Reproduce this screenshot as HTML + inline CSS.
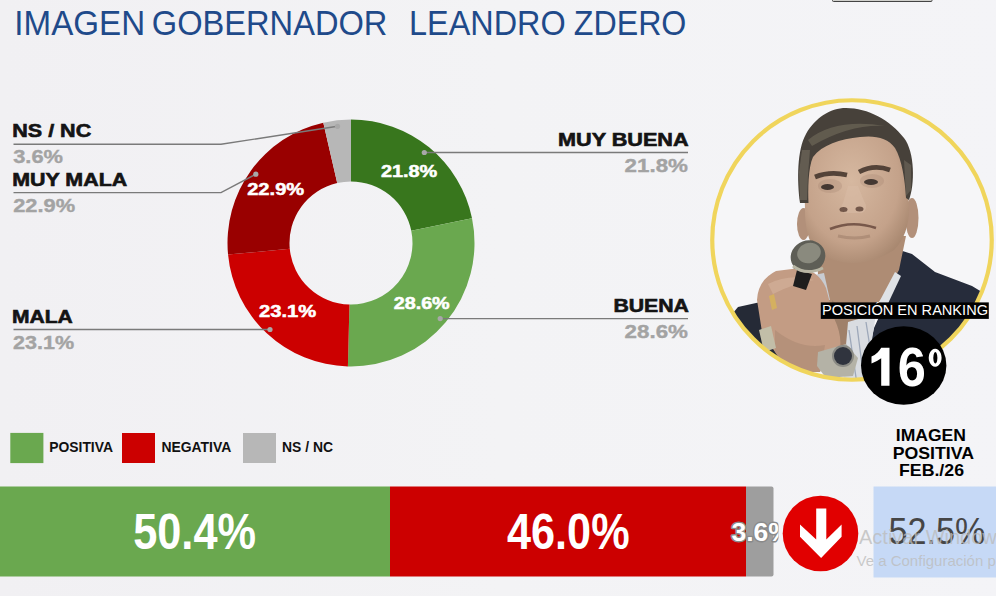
<!DOCTYPE html>
<html><head><meta charset="utf-8">
<style>
html,body{margin:0;padding:0;width:1007px;height:596px;overflow:hidden;background:#f3f3f5;}
svg{position:absolute;left:0;top:0;display:block}
text{font-family:"Liberation Sans",sans-serif;}
</style></head>
<body>
<svg width="1007" height="596" viewBox="0 0 1007 596">
<defs>
<clipPath id="photoclip"><circle cx="852" cy="240" r="139"/></clipPath>
<clipPath id="clip36"><rect x="700" y="480" width="78.5" height="100"/></clipPath>
<radialGradient id="skin" cx="0.45" cy="0.4" r="0.7">
<stop offset="0" stop-color="#d6b8a0"/><stop offset="0.65" stop-color="#c4a28a"/><stop offset="1" stop-color="#a08068"/>
</radialGradient>
</defs>
<!-- background -->
<linearGradient id="bgg" x1="0" y1="0" x2="1" y2="0"><stop offset="0" stop-color="#f1f0f3"/><stop offset="0.5" stop-color="#f3f3f5"/><stop offset="1" stop-color="#f4f4f7"/></linearGradient>
<rect x="0" y="0" width="1007" height="596" fill="url(#bgg)"/>
<rect x="832.5" y="-3" width="99.5" height="4.5" rx="1" fill="#d0d0cc" stroke="#444" stroke-width="1"/>

<!-- title -->
<g font-size="34.5" fill="#1f4a8a">
<text x="14.3" y="34.8" textLength="130.8" lengthAdjust="spacingAndGlyphs">IMAGEN</text>
<text x="151.8" y="34.8" textLength="235.6" lengthAdjust="spacingAndGlyphs">GOBERNADOR</text>
<text x="409.1" y="34.8" textLength="156.6" lengthAdjust="spacingAndGlyphs">LEANDRO</text>
<text x="573.8" y="34.8" textLength="112.6" lengthAdjust="spacingAndGlyphs">ZDERO</text>
</g>

<!-- donut -->
<path fill="#38761d" d="M351.00 119.50A123.5 123.5 0 0 1 472.01 218.34L411.26 230.72A61.5 61.5 0 0 0 351.00 181.50Z"/>
<path fill="#6aa84f" d="M472.01 218.34A123.5 123.5 0 0 1 347.90 366.46L349.45 304.48A61.5 61.5 0 0 0 411.26 230.72Z"/>
<path fill="#cc0000" d="M347.90 366.46A123.5 123.5 0 0 1 228.05 254.62L289.77 248.79A61.5 61.5 0 0 0 349.45 304.48Z"/>
<path fill="#990000" d="M228.05 254.62A123.5 123.5 0 0 1 323.30 122.65L337.21 183.07A61.5 61.5 0 0 0 289.77 248.79Z"/>
<path fill="#b7b7b7" d="M323.30 122.65A123.5 123.5 0 0 1 351.00 119.50L351.00 181.50A61.5 61.5 0 0 0 337.21 183.07Z"/>

<!-- in-slice labels -->
<g font-weight="700" font-size="16.3" fill="#fff" stroke="#fff" stroke-width="0.5">
<text x="380.9" y="177" textLength="56.4" lengthAdjust="spacingAndGlyphs">21.8%</text>
<text x="393.7" y="308.5" textLength="56" lengthAdjust="spacingAndGlyphs">28.6%</text>
<text x="259" y="317" textLength="57.2" lengthAdjust="spacingAndGlyphs">23.1%</text>
<text x="247.2" y="194.7" textLength="57" lengthAdjust="spacingAndGlyphs">22.9%</text>
</g>

<!-- leader lines -->
<g stroke="#7a7a7a" stroke-width="1.4" fill="none">
<polyline points="13.5,144.3 221,144.3 337.5,126.3"/>
<polyline points="13.5,192.6 221,192.6 255.8,174.2"/>
<polyline points="13.5,329.5 270,329.5"/>
<polyline points="424.3,152.5 688,152.5"/>
<polyline points="440.2,318.6 688,318.6"/>
</g>
<g fill="#a8a8a8">
<circle cx="337.5" cy="126.3" r="2.6"/>
<circle cx="255.8" cy="174.2" r="2.6"/>
<circle cx="270" cy="329.5" r="2.6"/>
<circle cx="424.3" cy="152.5" r="2.6"/>
<circle cx="440.2" cy="318.6" r="2.6"/>
</g>

<!-- outside labels -->
<g font-weight="700" font-size="17.5" fill="#141414" stroke="#141414" stroke-width="0.6">
<text x="12.3" y="136.8" textLength="78.9" lengthAdjust="spacingAndGlyphs">NS / NC</text>
<text x="12.2" y="185.7" textLength="115" lengthAdjust="spacingAndGlyphs">MUY MALA</text>
<text x="12.0" y="322.7" textLength="60.8" lengthAdjust="spacingAndGlyphs">MALA</text>
<text x="558" y="145.6" textLength="130.6" lengthAdjust="spacingAndGlyphs">MUY BUENA</text>
<text x="613.4" y="312" textLength="75.6" lengthAdjust="spacingAndGlyphs">BUENA</text>
</g>
<g font-weight="700" font-size="17.5" fill="#a3a3a3" stroke="#a3a3a3" stroke-width="0.35">
<text x="13.2" y="163.4" textLength="49.8" lengthAdjust="spacingAndGlyphs">3.6%</text>
<text x="13.2" y="212.3" textLength="61.9" lengthAdjust="spacingAndGlyphs">22.9%</text>
<text x="13.0" y="348.8" textLength="61.1" lengthAdjust="spacingAndGlyphs">23.1%</text>
<text x="624.6" y="172" textLength="63.4" lengthAdjust="spacingAndGlyphs">21.8%</text>
<text x="624.6" y="338.4" textLength="63.4" lengthAdjust="spacingAndGlyphs">28.6%</text>
</g>

<!-- legend -->
<rect x="10.3" y="432.9" width="33.1" height="30.2" fill="#6aa84f"/>
<rect x="122" y="433" width="33" height="30" fill="#cc0000"/>
<rect x="243" y="433" width="33" height="30" fill="#b7b7b7"/>
<g font-weight="700" font-size="14" fill="#111">
<text x="49.2" y="452" textLength="63.8" lengthAdjust="spacingAndGlyphs">POSITIVA</text>
<text x="161.4" y="452" textLength="69.9" lengthAdjust="spacingAndGlyphs">NEGATIVA</text>
<text x="282" y="452" textLength="51" lengthAdjust="spacingAndGlyphs">NS / NC</text>
</g>

<!-- bar -->
<rect x="0" y="486.5" width="390" height="90" fill="#6aa84f"/>
<rect x="390" y="486.5" width="356" height="90" fill="#cc0000"/>
<path d="M746 486.5H771.5a2 2 0 0 1 2 2V574.5a2 2 0 0 1 -2 2H746Z" fill="#9e9e9e"/>
<g font-weight="700" font-size="50" fill="#fff">
<text x="133.2" y="549" textLength="122.8" lengthAdjust="spacingAndGlyphs">50.4%</text>
<text x="507" y="549" textLength="122.6" lengthAdjust="spacingAndGlyphs">46.0%</text>
</g>
<g clip-path="url(#clip36)">
<text x="731.5" y="541" font-weight="700" font-size="26.5" fill="#fff" stroke="#8a8a8a" stroke-width="3" stroke-linejoin="round" style="paint-order:stroke">3.6%</text>
</g>

<!-- arrow -->
<circle cx="820.5" cy="533.5" r="37.8" fill="#e10000"/>
<polygon fill="#fff" points="816.2,508.6 826.3,508.6 826.3,539.5 841.6,524.4 841.6,536.8 821.1,558 800,536.8 800,524.4 816.2,539.5"/>

<!-- blue box -->
<rect x="873.5" y="486.5" width="122.5" height="91" fill="#c6d9f6"/>
<text x="888.5" y="543.8" font-size="36" fill="#464646" textLength="97" lengthAdjust="spacingAndGlyphs">52.5%</text>
<g font-weight="700" font-size="16.5" fill="#000">
<text x="895.8" y="441.2" textLength="70.2" lengthAdjust="spacingAndGlyphs">IMAGEN</text>
<text x="892.7" y="459" textLength="81.3" lengthAdjust="spacingAndGlyphs">POSITIVA</text>
<text x="899" y="476" textLength="65" lengthAdjust="spacingAndGlyphs">FEB./26</text>
</g>

<!-- photo -->
<circle cx="852" cy="240" r="139" fill="#f6f6f8"/>
<g clip-path="url(#photoclip)">
  <!-- left suit shoulder -->
  <path fill="#252a36" d="M712 338 L738 307 L770 300 L796 340 L800 400 L712 400 Z"/>
  <!-- right suit -->
  <path fill="#262c3b" d="M893 248 L912 254 L935 272 L972 286 L995 300 L1000 400 L858 400 L874 328 L884 306 Z"/>
  <!-- neck -->
  <path fill="#ae8c74" d="M816 236 L906 236 L899 270 L884 296 L866 316 L852 328 L850 350 L832 350 L827 305 L818 275 Z"/>
  <path fill="#8f7060" opacity="0.45" d="M832 300 Q850 318 866 316 L852 328 L850 350 L832 350 Z"/>
  <!-- shirt collar + stripes -->
  <path fill="#dfe2e6" d="M895 272 L901 276 L884 312 L876 308 Z"/>
  <path fill="#c8ccd2" d="M814 275 L824 273 L830 300 L822 300 Z"/>
  <path fill="#d9dde2" d="M848 322 L876 314 L872 340 L868 400 L842 400 L846 345 Z"/>
  <g stroke="#8e9bb0" stroke-width="1.3" opacity="0.8">
    <line x1="849" y1="330" x2="858" y2="391"/><line x1="857" y1="326" x2="865" y2="388"/><line x1="866" y1="322" x2="872" y2="360"/>
  </g>
  <!-- ears -->
  <ellipse cx="803.5" cy="224" rx="6.5" ry="16" fill="#b2907a"/>
  <ellipse cx="912" cy="218" rx="6.5" ry="20" fill="#b2907a"/>
  <!-- face -->
  <path fill="url(#skin)" d="M804 170 Q808 128 850 126 Q898 124 906 168 L909 205 Q910 234 894 250 Q872 264 852 263 Q828 262 815 250 Q805 236 805 210 Z"/>
  <!-- brows / eyes / nose / mouth -->
  <ellipse cx="830" cy="186" rx="12" ry="7" fill="#8a6a56" opacity="0.18"/>
  <ellipse cx="872" cy="181" rx="12" ry="7" fill="#8a6a56" opacity="0.18"/>
  <path d="M815 177 Q830 171 847 175" stroke="#3e3028" stroke-width="4.8" fill="none" opacity="0.85"/>
  <path d="M859 172 Q874 164 890 170" stroke="#3e3028" stroke-width="4.8" fill="none" opacity="0.85"/>
  <ellipse cx="827.5" cy="187" rx="6.5" ry="3" fill="#2e2622" opacity="0.85"/>
  <ellipse cx="871" cy="182" rx="7" ry="3" fill="#2e2622" opacity="0.85"/>
  <path d="M848 186 L843 203 Q838 210 845 213 L862 213 Q869 209 864 201 L858 186 Z" fill="#d8bca6" opacity="0.55"/>
  <ellipse cx="843.5" cy="209.5" rx="4" ry="2.5" fill="#5a4034" opacity="0.8"/>
  <ellipse cx="859.5" cy="209" rx="4" ry="2.5" fill="#5a4034" opacity="0.8"/>
  <path d="M830 229 Q852 220 876 228" stroke="#6a4a3e" stroke-width="2.6" fill="none" opacity="0.85"/>
  <path d="M838 236 Q855 240 870 236" stroke="#9a7a66" stroke-width="3" fill="none" opacity="0.5"/>
  <!-- hair -->
  <path fill="#47413a" d="M800 203 C797 180 797 150 806 134 C815 118 830 108 846 108 C868 108 890 120 904 138 C915 152 915 185 909 200 L906 198 C905 180 902 160 895 148 C888 138 875 135 860 137 C840 139 822 145 813 157 C808 168 808 190 808.5 203 Z"/>
  <path fill="#7a7264" opacity="0.55" d="M800 200 L799 172 L802 150 L810 150 L808 175 L807 200 Z"/>
  <path fill="#7a7264" opacity="0.5" d="M904 160 L911 165 L911 190 L906 196 Z"/>
  <path fill="#8a826f" opacity="0.4" d="M808 140 Q835 118 885 126 Q850 124 812 146 Z"/>
  <!-- mic handle -->
  <path fill="#232323" d="M795 266 L809 274 L773 346 L760 339 Z"/>
  <!-- hand -->
  <path fill="#c39c84" d="M757 300 Q758 280 776 271 L800 268 Q818 270 826 288 L834 318 Q842 335 840 348 L830 352 L820 372 L800 372 Q784 368 775 352 L762 332 Z"/>
  <path fill="#d6b49c" opacity="0.6" d="M768 284 Q790 273 814 280 Q795 283 773 294 Z"/>
  <path fill="#a88670" opacity="0.5" d="M775 330 Q800 350 825 345 L820 372 L800 372 Q784 368 775 352 Z"/>
  <path fill="#d4b060" d="M769 296 L774 294 L777 308 L772 310 Z"/>
  <path fill="#c2bea8" d="M759 330 L771 326 L776 348 L764 352 Z"/>
  <!-- mic head -->
  <path fill="#1e1e1e" d="M797 270 L812 274 L806 290 L793 286 Z"/>
  <ellipse cx="808" cy="256.5" rx="17.5" ry="16" transform="rotate(-20 808 256.5)" fill="#5e5e56"/>
  <ellipse cx="809" cy="253" rx="12" ry="10" transform="rotate(-20 809 253)" fill="#8a8a7e"/>
  <path d="M793 266 Q806 276 823 268" stroke="#b8b6a4" stroke-width="3" fill="none"/>
  <!-- watch -->
  <path fill="#b4b2a6" d="M818 352 L846 344 L858 358 L853 376 L826 378 L817 366 Z"/>
  <circle cx="843" cy="356" r="11" fill="#8a8a84"/>
  <circle cx="843" cy="356" r="9" fill="#30343e"/>
</g>
<circle cx="852" cy="240" r="139.75" fill="none" stroke="#f0d55c" stroke-width="4.2"/>

<!-- ranking -->
<rect x="820.8" y="302.4" width="168" height="16.5" fill="#000"/>
<text x="822" y="315.3" font-size="14" fill="#fff" textLength="166" lengthAdjust="spacingAndGlyphs">POSICIÓN EN RANKING</text>
<ellipse cx="903.7" cy="365.5" rx="42.7" ry="39.2" fill="#000"/>
<path fill="#fff" d="M881.2 347.8H889.5V385.7H881.2V358.3Q877 361.6 871.5 363.4V356.4Q875 355 877.6 352.4Q880 350 881.2 347.8Z"/>
<text transform="translate(897.8 386) scale(0.92 1)" font-weight="700" font-size="55" fill="#fff">6</text>
<path fill="#fff" fill-rule="evenodd" d="M935.15 348.8a6.45 9 0 1 0 0.01 0Z M935.35 352a2.05 5.8 0 1 1 -0.01 0Z"/>

<!-- watermark -->
<text x="859" y="544.2" font-size="20" fill="#bcbcbc" fill-opacity="0.78">Activar Windows</text>
<text x="856.5" y="565.5" font-size="15" fill="#bcbcbc" fill-opacity="0.78">Ve a Configuración para activar Windows.</text>
<rect x="996" y="0" width="11" height="596" fill="#ffffff"/>
</svg>
</body></html>
